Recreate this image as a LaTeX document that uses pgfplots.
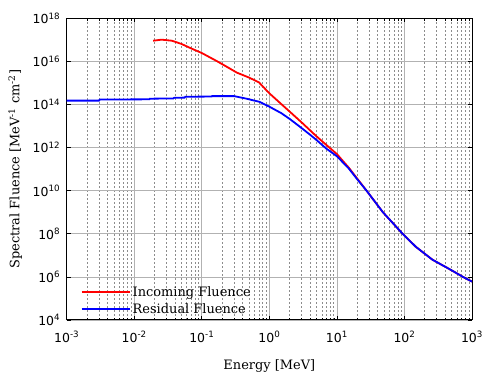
\documentclass[border=0pt]{standalone}
\usepackage{fontspec}
\setmainfont{DejaVu Serif}
\newfontfamily\tickfont{DejaVu Sans}
\usepackage{pgfplots}
\pgfplotsset{compat=1.18}
\begin{document}
\begin{tikzpicture}
\begin{loglogaxis}[
  scale only axis, width=405.3bp, height=301.7bp,
  xmin=1e-3, xmax=1e3, ymin=1e4, ymax=1e18,
  xtick={1e-3,1e-2,1e-1,1,1e1,1e2,1e3},
  xticklabels={10\textsuperscript{-3},10\textsuperscript{-2},10\textsuperscript{-1},10\textsuperscript{0},10\textsuperscript{1},10\textsuperscript{2},10\textsuperscript{3}},
  ytick={1e4,1e6,1e8,1e10,1e12,1e14,1e16,1e18},
  yticklabels={10\textsuperscript{4},10\textsuperscript{6},10\textsuperscript{8},10\textsuperscript{10},10\textsuperscript{12},10\textsuperscript{14},10\textsuperscript{16},10\textsuperscript{18}},
  yminorticks=false,
  /pgf/number format/assume math mode=true,
  tick label style={font=\tickfont\fontsize{12.5}{14}\selectfont},
  xticklabel style={yshift=-8bp},
  yticklabel style={xshift=-3bp},
  label style={font=\fontsize{13}{15}\selectfont},
  xmajorgrids, ymajorgrids, xminorgrids,
  major grid style={black!30, line width=0.7bp},
  minor grid style={black!45, dash pattern=on 1.5bp off 2.5bp, line width=0.7bp},
  tick align=inside, major tick length=4bp, minor tick length=2.5bp,
  every tick/.style={black, line width=0.6bp},
  axis line style={line width=1bp},
  xlabel={Energy [MeV]},
  ylabel={Spectral Fluence [MeV\textsuperscript{-1} cm\textsuperscript{-2}]},
  xlabel style={at={(axis description cs:0.5,-0.163)}, anchor=base},
  ylabel style={at={(axis description cs:-0.127,0.5)}, anchor=center},
  legend style={at={(axis description cs:0,0)}, anchor=south west, xshift=11bp, yshift=1bp,
    draw=none, fill=none, font=\fontsize{13}{15}\selectfont, row sep=1.5bp},
  legend cell align=left,
  legend image code/.code={\draw[#1, line width=1.8bp] (0bp,0bp) -- (38bp,0bp); \path (0bp,0bp) -- (48bp,0bp);},
]
\addplot[red, line width=1.8bp] coordinates {
(0.019,9.12e16) (0.0254,1.02e17) (0.036,9.12e16) (0.05,6.46e16) (0.07,3.98e16)
(0.1,2.45e16) (0.17,1.0e16) (0.25,5.01e15) (0.33,3.02e15) (0.5,1.78e15)
(0.7,1.07e15) (1.0,3.31e14) (1.5,1.05e14) (2.0,4.68e13) (3.0,1.48e13)
(5.0,3.31e12) (7.0,1.32e12) (10,5.01e11) (15,1.17e11) (20,3.63e10)
(27.5,1.0e10) (48,1.0e9) (94,1.0e8) (147,2.51e7) (259,6.31e6)
(471,2.24e6) (736,1.0e6) (1000,6.03e5)
};
\addlegendentry{Incoming Fluence}
\addplot[blue, line width=1.8bp] coordinates {
(0.001,1.51e14) (0.003,1.51e14) (0.0031,1.70e14) (0.0167,1.74e14) (0.017,1.86e14)
(0.038,1.91e14) (0.039,2.04e14) (0.056,2.09e14) (0.057,2.29e14) (0.14,2.34e14)
(0.142,2.45e14) (0.30,2.45e14) (0.46,1.86e14) (0.72,1.32e14) (1.0,7.94e13)
(1.5,3.98e13) (2.0,2.14e13) (2.8,9.55e12) (4.0,3.98e12) (5.0,2.24e12)
(7.0,8.91e11) (10,3.98e11) (15,1.07e11) (20,3.39e10) (27.5,1.0e10)
(48,1.0e9) (94,1.0e8) (147,2.51e7) (259,6.31e6) (471,2.24e6)
(736,1.0e6) (1000,6.03e5)
};
\addlegendentry{Residual Fluence}
\end{loglogaxis}
\pgfresetboundingbox
\path[use as bounding box] (-66.7bp,-55bp) rectangle (433.3bp,320bp);
\end{tikzpicture}
\end{document}
